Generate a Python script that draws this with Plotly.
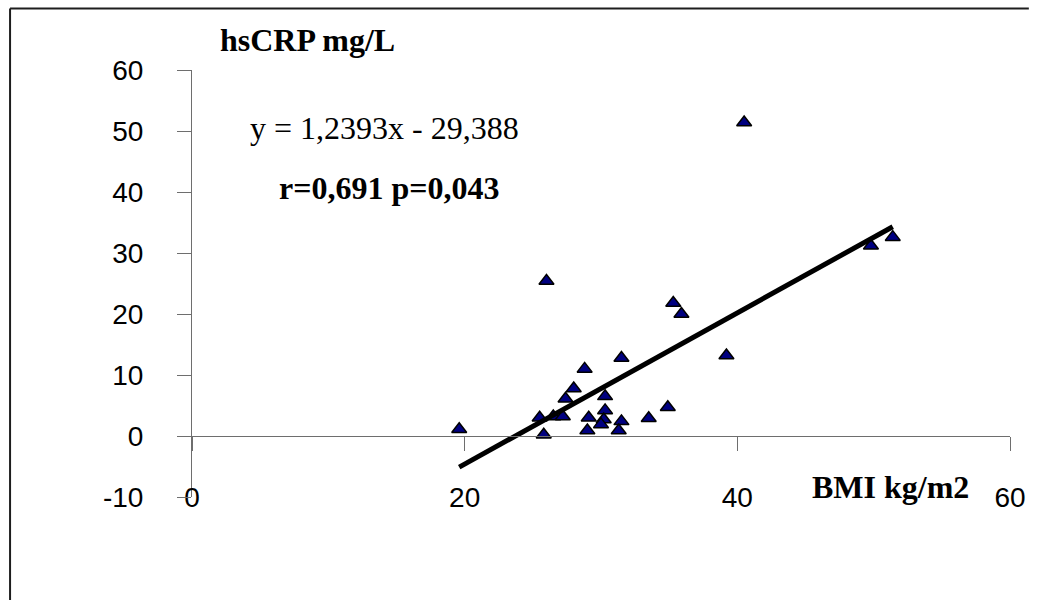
import plotly.graph_objects as go

# ---- data ----
bmi = [26.0, 35.3, 35.9, 39.2, 31.5, 28.8, 28.0, 27.4, 30.3, 30.3, 30.2, 30.0, 29.1,
       29.0, 31.5, 31.3, 33.5, 34.9, 25.5, 26.5, 27.2, 25.8, 19.6, 40.5, 49.8, 51.4]
hscrp = [25.4, 21.8, 20.0, 13.2, 12.8, 11.0, 7.8, 6.1, 6.5, 4.2, 2.7, 1.9, 3.0,
         0.9, 2.4, 0.9, 2.9, 4.7, 3.0, 3.2, 3.2, 0.2, 1.1, 51.4, 31.2, 32.6]
slope = 1.2393
intercept = -29.388
x_ticks = [0, 20, 40, 60]
x_tick_labels = ["0", "20", "40", "60"]
y_ticks = [-10, 0, 10, 20, 30, 40, 50, 60]
y_tick_labels = ["-10", "0", "10", "20", "30", "40", "50", "60"]
x_range = [0, 60]
y_range = [-10, 60]
equation_text = "y = 1,2393x - 29,388"
stats_text = "<b>r=0,691 p=0,043</b>"
y_title = "<b>hsCRP mg/L</b>"
x_title = "<b>BMI kg/m2</b>"

# ---- layout geometry ----
W, H = 1038, 600
ML, MR, MT, MB = 192, 21, 70, 103
PW, PH = W - ML - MR, H - MT - MB


def px(xp):
    return (xp - ML) / PW


def py(yp):
    return (H - MB - yp) / PH


line_x = [min(bmi), max(bmi)]
line_y = [slope * v + intercept for v in line_x]

fig = go.Figure()
fig.add_trace(go.Scatter(
    x=line_x, y=line_y, mode="lines", xaxis="x2", yaxis="y",
    line=dict(color="black", width=5), hoverinfo="skip", showlegend=False))
fig.add_trace(go.Scatter(
    x=bmi, y=hscrp, mode="markers", xaxis="x", yaxis="y",
    marker=dict(symbol="triangle-up", size=13, color="#000080",
                line=dict(color="black", width=1.5)),
    showlegend=False))

axis_gray = "#6e6e6e"
tick_font = dict(family="Liberation Sans, Arial, sans-serif", size=28, color="black")

fig.update_layout(
    width=W, height=H,
    margin=dict(l=ML, r=MR, t=MT, b=MB, pad=0),
    paper_bgcolor="white", plot_bgcolor="white",
    showlegend=False,
    xaxis=dict(range=x_range, tickvals=x_ticks, ticktext=x_tick_labels, ticks="",
               showline=False, showgrid=False, zeroline=False, tickfont=tick_font,
               ticklabelstandoff=-19),
    xaxis2=dict(range=x_range, overlaying="x", anchor="free",
                position=(0 - y_range[0]) / (y_range[1] - y_range[0]),
                tickvals=x_ticks, ticks="outside", ticklen=14, tickwidth=1,
                tickcolor=axis_gray, showline=True, linecolor=axis_gray, linewidth=1,
                showticklabels=False, showgrid=False, zeroline=False),
    yaxis=dict(range=y_range, tickvals=y_ticks, ticktext=y_tick_labels,
               ticks="outside", ticklen=14, tickwidth=1, tickcolor=axis_gray,
               showline=True, linecolor=axis_gray, linewidth=1, showgrid=False,
               zeroline=False, tickfont=tick_font, ticklabelstandoff=28),
)

serif = "Liberation Serif, Times New Roman, serif"
ann = [
    (y_title, 218, 40),
    (equation_text, 248, 128),
    (stats_text, 278, 188),
    (x_title, 815, 487),
]
for text, xp, yp in ann:
    fig.add_annotation(text=text, xref="paper", yref="paper", x=px(xp), y=py(yp),
                       xanchor="left", yanchor="middle", showarrow=False,
                       font=dict(family=serif, size=32, color="black"))

# outer chart border (only the left and top edges are visible in the reference)
border = dict(color="#1e1e1e", width=2)
fig.add_shape(type="line", xref="paper", yref="paper",
              x0=px(8.5), x1=px(8.5), y0=py(H), y1=py(8.5), line=border)
fig.add_shape(type="line", xref="paper", yref="paper",
              x0=px(8.5), x1=px(W - 2), y0=py(8.5), y1=py(8.5), line=border)

fig.write_html("out.html")
